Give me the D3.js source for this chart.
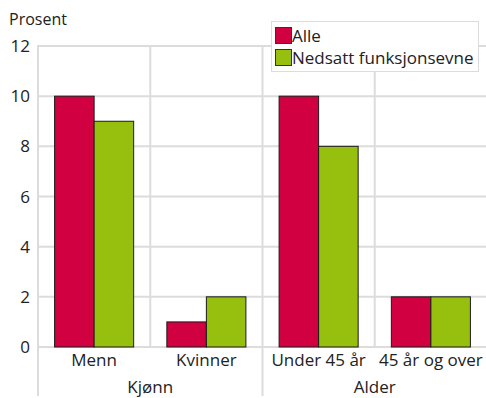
<!DOCTYPE html>
<html>
<head>
<meta charset="utf-8">
<script src="https://cdn.jsdelivr.net/npm/d3@7"></script>
<style>
  html, body { margin: 0; padding: 0; background: #fff; }
  svg text { font-family: "Open Sans", "Noto Sans", sans-serif; fill: #222; }
</style>
</head>
<body>
<svg id="chart" width="486" height="398"></svg>
<script>
// Categories, grouped under their headings
const categories = ["Menn", "Kvinner", "Under 45 år", "45 år og over"];
const groups = [
  { label: "Kjønn", from: 0, to: 2 },
  { label: "Alder", from: 2, to: 4 }
];
const seriesNames = ["Alle", "Nedsatt funksjonsevne"];
const seriesColors = ["#d10040", "#97bf0d"];
const alle = [10, 1, 10, 2];
const nedsatt = [9, 2, 8, 2];
const yTicks = [0, 2, 4, 6, 8, 10, 12];
const yTitle = "Prosent";

const seriesValues = [alle, nedsatt];

const svg = d3.select("#chart");
const plotLeft = 38, plotRight = 487, plotTop = 46, plotBottom = 347;

const x = d3.scaleBand().domain(categories).range([plotLeft, plotRight]).paddingInner(0).paddingOuter(0);
const xs = d3.scaleBand().domain(seriesNames).range([0, x.bandwidth()]).paddingInner(0).paddingOuter(0.42);
const y = d3.scaleLinear().domain([0, 12]).range([plotBottom, plotTop]);

const grid = "#dcdcdc";

// horizontal gridlines
svg.append("g").selectAll("line").data(yTicks).join("line")
  .attr("x1", plotLeft).attr("x2", 486)
  .attr("y1", d => y(d)).attr("y2", d => y(d))
  .attr("stroke", grid).attr("stroke-width", 2);

// vertical lines at category boundaries; group boundaries run down past the labels
const boundaries = categories.map((c, i) => ({ x: x(c), isGroup: groups.some(g => g.from === i) }));
svg.append("g").selectAll("line").data(boundaries).join("line")
  .attr("x1", d => d.x).attr("x2", d => d.x)
  .attr("y1", plotTop - 1).attr("y2", d => d.isGroup ? 396 : plotBottom)
  .attr("stroke", grid).attr("stroke-width", 2);

// y tick labels
svg.append("g").selectAll("text").data(yTicks).join("text")
  .attr("x", 30).attr("y", d => y(d)).attr("dy", "0.36em")
  .attr("text-anchor", "end").attr("font-size", 17)
  .text(d => d);

svg.append("text").attr("x", 9).attr("y", 25).attr("font-size", 16).text(yTitle);

// bars
const barData = [];
categories.forEach((c, i) => seriesNames.forEach((s, j) => barData.push({ c, s, v: seriesValues[j][i], color: seriesColors[j] })));
svg.append("g").selectAll("rect").data(barData).join("rect")
  .attr("x", d => x(d.c) + xs(d.s))
  .attr("width", xs.bandwidth())
  .attr("y", d => y(d.v))
  .attr("height", d => y(0) - y(d.v))
  .attr("fill", d => d.color)
  .attr("stroke", "#1a1a1a").attr("stroke-width", 1);

// category labels
svg.append("g").selectAll("text").data(categories).join("text")
  .attr("x", d => x(d) + x.bandwidth() / 2).attr("y", 366)
  .attr("text-anchor", "middle").attr("font-size", 17)
  .text(d => d);

// group labels
svg.append("g").selectAll("text").data(groups).join("text")
  .attr("x", g => (x(categories[g.from]) + (g.to < categories.length ? x(categories[g.to]) : plotRight)) / 2)
  .attr("y", 393)
  .attr("text-anchor", "middle").attr("font-size", 17)
  .text(g => g.label);

// legend
const lg = svg.append("g");
lg.append("rect").attr("x", 271.5).attr("y", 21.5).attr("width", 207).attr("height", 50)
  .attr("fill", "#fff").attr("stroke", "#dcdcdc").attr("stroke-width", 1);
seriesNames.forEach((s, j) => {
  lg.append("rect").attr("x", 275.5).attr("y", 27.5 + j * 22).attr("width", 16).attr("height", 16)
    .attr("fill", seriesColors[j]).attr("stroke", "#333").attr("stroke-width", 1);
  lg.append("text").attr("x", 292).attr("y", 35.5 + j * 22).attr("dy", "0.36em")
    .attr("font-size", 17).text(s);
});
</script>
</body>
</html>
